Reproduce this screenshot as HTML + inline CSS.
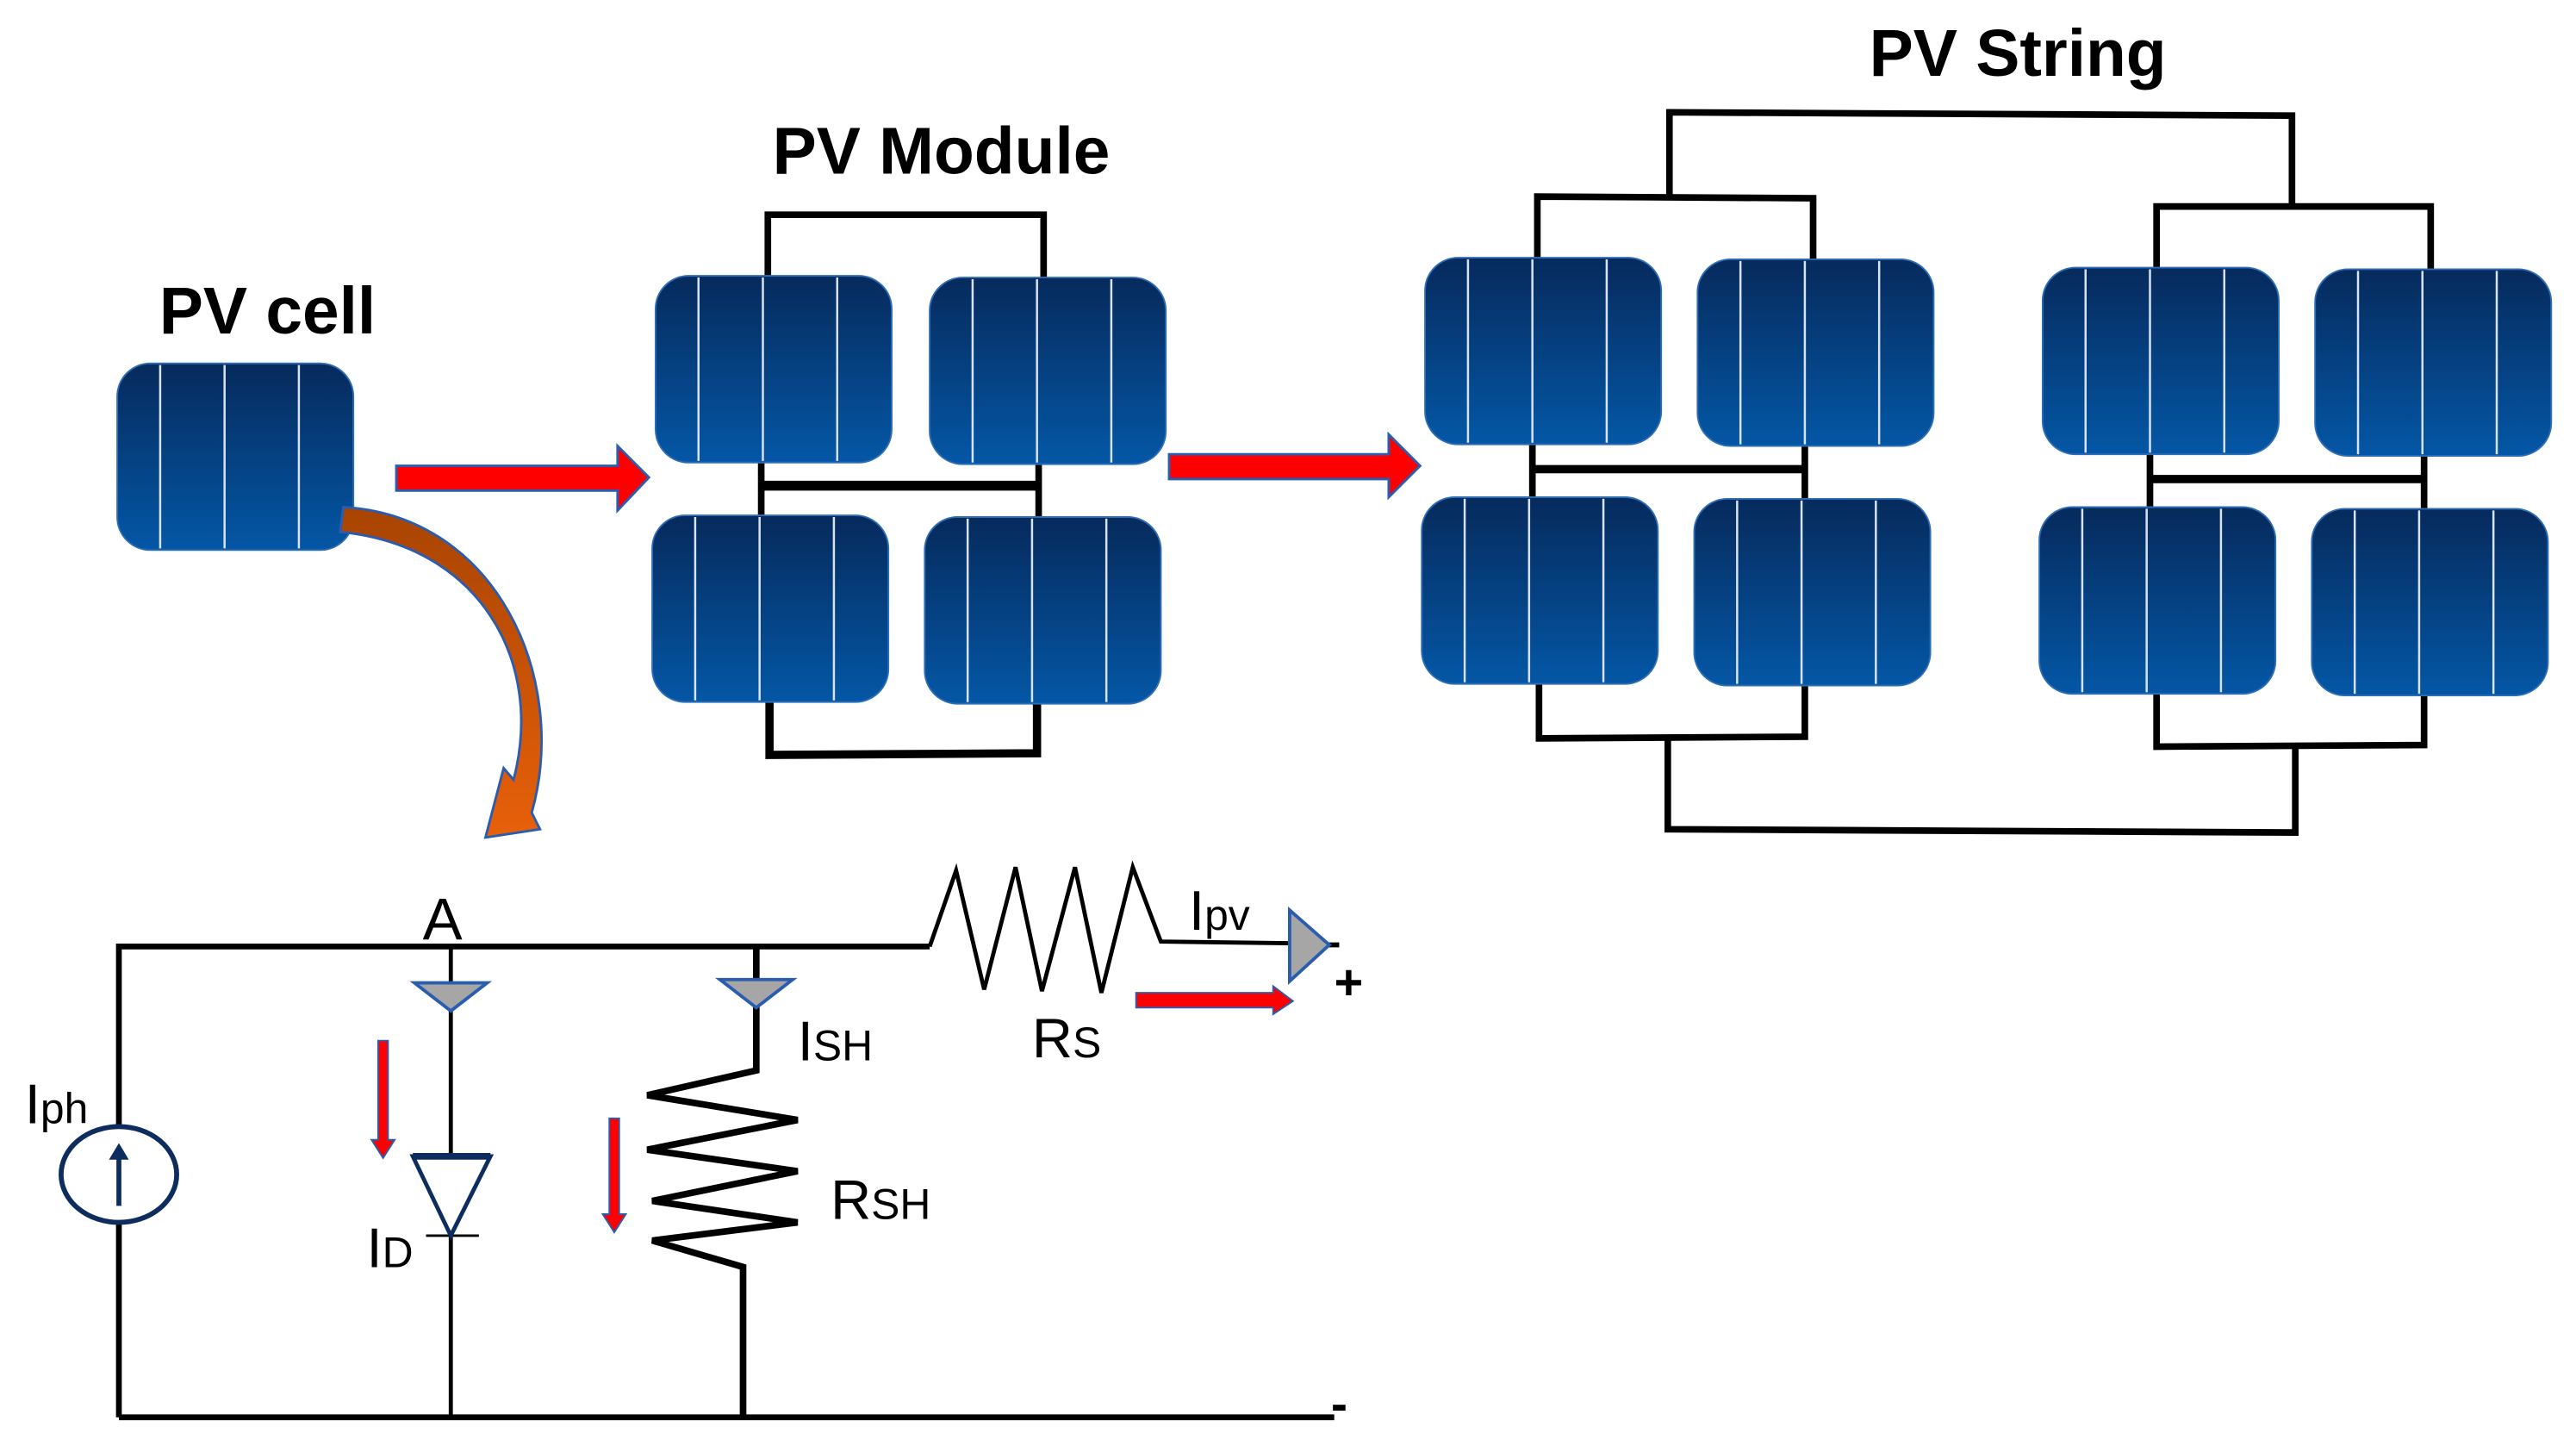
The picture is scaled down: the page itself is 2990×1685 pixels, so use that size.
<!DOCTYPE html>
<html><head><meta charset="utf-8"><style>
html,body{margin:0;padding:0;background:#fff;}
svg{display:block;}
text{font-family:"Liberation Sans",Arial,sans-serif;}
</style></head><body>
<svg width="2990" height="1685" viewBox="0 0 1560 879" preserveAspectRatio="none" xmlns="http://www.w3.org/2000/svg">
<defs>
<linearGradient id="cg" x1="0" y1="0" x2="0" y2="1">
<stop offset="0" stop-color="#062a5c"/><stop offset="1" stop-color="#0457a6"/></linearGradient>
<linearGradient id="og" x1="0" y1="0" x2="0" y2="1">
<stop offset="0" stop-color="#a84402"/><stop offset="1" stop-color="#e8600a"/></linearGradient>
<g id="cell">
<rect x="0" y="0" width="143" height="113" rx="20" ry="20" fill="url(#cg)" stroke="#2c6db5" stroke-width="1"/>
<line x1="26" y1="1" x2="26" y2="112" stroke="#d8e2f0" stroke-width="1.3"/>
<line x1="65" y1="1" x2="65" y2="112" stroke="#d8e2f0" stroke-width="1.3"/>
<line x1="110" y1="1" x2="110" y2="112" stroke="#d8e2f0" stroke-width="1.3"/>
</g>
</defs>

<text x="162" y="202" font-size="40" font-weight="bold" text-anchor="middle" fill="#000">PV cell</text>
<text x="570" y="105" font-size="40" font-weight="bold" text-anchor="middle" fill="#000">PV Module</text>
<text x="1222" y="46" font-size="40" font-weight="bold" text-anchor="middle" fill="#000">PV String</text>

<g fill="none" stroke="#000" stroke-width="4">
<polyline points="465,168 465,130 632,130 632,168"/>
<line x1="461" y1="280" x2="461" y2="312"/><line x1="629" y1="281" x2="629" y2="313"/>
<line x1="461" y1="294" x2="629" y2="294" stroke-width="6"/>
<polyline points="466,425 466,457 628,456 628,426" stroke-width="5"/>
<polyline points="931,157 931,119 1098,120 1098,157"/>
<line x1="928" y1="268" x2="928" y2="301"/><line x1="1093" y1="270" x2="1093" y2="302"/>
<line x1="928" y1="284" x2="1093" y2="284" stroke-width="5"/>
<polyline points="932,414 932,447 1093,446 1093,414"/>
<polyline points="1306,163 1306,125 1472,125 1472,164"/>
<line x1="1302" y1="274" x2="1302" y2="307"/><line x1="1468" y1="275" x2="1468" y2="308"/>
<line x1="1302" y1="290" x2="1468" y2="290" stroke-width="5"/>
<polyline points="1306,420 1306,452 1468,451 1468,420"/>
<polyline points="1011,119 1011,68 1388,70 1388,125"/>
<polyline points="1010,447 1010,502 1390,504 1390,452"/>
</g>

<use href="#cell" x="71" y="220"/>
<use href="#cell" x="397" y="167"/>
<use href="#cell" x="563" y="168"/>
<use href="#cell" x="395" y="312"/>
<use href="#cell" x="560" y="313"/>
<use href="#cell" x="863" y="156"/>
<use href="#cell" x="1028" y="157"/>
<use href="#cell" x="861" y="301"/>
<use href="#cell" x="1026" y="302"/>
<use href="#cell" x="1237" y="162"/>
<use href="#cell" x="1402" y="163"/>
<use href="#cell" x="1235" y="307"/>
<use href="#cell" x="1400" y="308"/>

<polygon points="240,282 374,282 374,270 393,289 374,309 374,297 240,297" fill="#ff0000" stroke="#2a5db0" stroke-width="1.5"/>
<polygon points="708,275 841,275 841,263 860,282 841,301 841,290 708,290" fill="#ff0000" stroke="#2a5db0" stroke-width="1.5"/>

<path d="M208,307 C300,312 345,410 322,492 L327,502 L294,507 L305,465 L311,472 C330,400 290,330 206,322 Z" fill="url(#og)" stroke="#2a5db0" stroke-width="1.5"/>

<g fill="none" stroke="#000">
<polyline points="72,858 72,573 563,573" stroke-width="3.5"/>
<polyline points="458,573 458,648 392,663 483,678 392,696 483,709 395,727 483,740 395,751 450,767 450,858" stroke-width="4"/>
<polyline points="563,573 579,527 596,599 615,525 631,600 651,525 667,601 686,525 703,570 780,571" stroke-width="2.5"/>
<line x1="795" y1="572" x2="811" y2="572" stroke-width="3"/>
<line x1="273" y1="573" x2="273" y2="858" stroke-width="2.5"/>
<line x1="72" y1="858" x2="808" y2="858" stroke-width="3.5"/>
<line x1="258" y1="748" x2="290" y2="748" stroke-width="1.5"/>
</g>
<ellipse cx="72" cy="711" rx="35" ry="29" fill="#fff" stroke="#0d2d5e" stroke-width="3"/>
<line x1="72" y1="730" x2="72" y2="700" stroke="#0d2d5e" stroke-width="3"/>
<polygon points="66,702 72,692 78,702" fill="#0d2d5e"/>
<polygon points="251,595 295,595 273,612" fill="#a6a6a6" stroke="#2a5db0" stroke-width="2"/>
<polygon points="436,593 480,593 458,610" fill="#a6a6a6" stroke="#2a5db0" stroke-width="2"/>
<polygon points="781,551 805,572 781,594" fill="#a6a6a6" stroke="#2a5db0" stroke-width="2"/>
<polygon points="250,700 297,700 273,748" fill="#fff" stroke="#0d2d5e" stroke-width="2.5"/>
<line x1="250" y1="700" x2="297" y2="700" stroke="#0d2d5e" stroke-width="4"/>
<polygon points="229,630 235,630 235,690 239,690 232,701 225,690 229,690" fill="#ff0000" stroke="#2a5db0" stroke-width="1"/>
<polygon points="369,677 375,677 375,735 379,735 372,746 365,735 369,735" fill="#ff0000" stroke="#2a5db0" stroke-width="1"/>
<polygon points="688,601 771,601 771,597 783,606 771,614 771,610 688,610" fill="#ff0000" stroke="#2a5db0" stroke-width="1"/>

<g fill="#000" font-size="34">
<text x="256" y="569" font-size="36">A</text>
<text x="15" y="680">I<tspan font-size="26">ph</tspan></text>
<text x="222" y="767">I<tspan font-size="26">D</tspan></text>
<text x="483" y="642">I<tspan font-size="26">SH</tspan></text>
<text x="503" y="738">R<tspan font-size="26">SH</tspan></text>
<text x="625" y="640">R<tspan font-size="26">S</tspan></text>
<text x="720" y="563">I<tspan font-size="26">pv</tspan></text>
<text x="808" y="605" font-weight="bold" font-size="30">+</text>
<text x="806" y="860" font-weight="bold" font-size="30">-</text>
</g>
</svg>
</body></html>
